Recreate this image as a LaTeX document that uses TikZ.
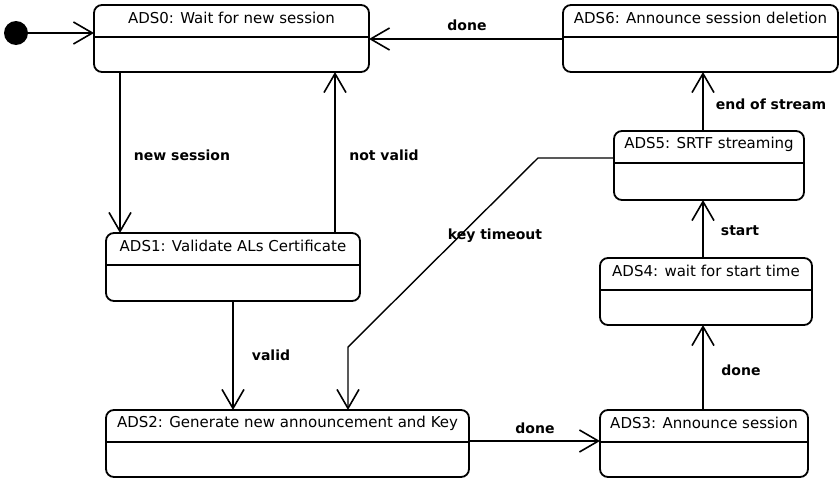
\documentclass[tikz,border=0pt]{standalone}
\usepackage{fontspec}
\setmainfont{DejaVu Sans}
\usetikzlibrary{arrows.meta,calc}
\begin{document}
\begin{tikzpicture}[x=1pt,y=-1pt,
  state/.style={draw, line width=1.8pt, rounded corners=8pt, anchor=north west,
    inner sep=0pt, outer sep=0pt},
  title/.style={font=\fontsize{15}{17}\selectfont, inner sep=0pt},
  divider/.style={line width=1.4pt},
  trans/.style={line width=1.8pt, -{Straight Barb[length=19pt,width=22pt,line width=1.6pt]}},
  lbl/.style={font=\fontsize{14}{16}\selectfont\bfseries, inner sep=0pt}]
\useasboundingbox (0,0) rectangle (840,479);

% states: box, title and divider line
\newcommand{\stbox}[6]{%
  \node[state, minimum width=#4, minimum height=#5] (#1) at (#2,#3) {};
  \node[title] (#1t) at ($(#1.north)+(0,13)$) {#6};
  \draw[divider] ($(#1.north west)+(0,32)$) -- ($(#1.north east)+(0,32)$);}

\stbox{s0}{94}{5}{275}{67}{ADS0: Wait for new session}
\stbox{s6}{563}{5}{275}{67}{ADS6: Announce session deletion}
\stbox{s5}{614}{131}{190}{69}{ADS5: SRTF streaming}
\stbox{s1}{106}{233}{254}{68}{ADS1: Validate ALs Certificate}
\stbox{s4}{600}{258}{212}{67}{ADS4: wait for start time}
\stbox{s2}{106}{410}{363}{67}{ADS2: Generate new announcement and Key}
\stbox{s3}{600}{410}{208}{67}{ADS3: Announce session}

% initial pseudo-state
\node[circle, fill, minimum size=24pt, inner sep=0pt] (init) at (16,33) {};

% transitions
\draw[trans] (init) -- (init -| s0.west);
\draw[trans] (s0.south -| 120,0) -- (s1.north -| 120,0);
\draw[trans] (s1.north -| 335,0) -- (s0.south -| 335,0);
\draw[trans] (s6.west |- 0,39) -- (s0.east |- 0,39);
\draw[trans] (s5.north -| 703,0) -- (s6.south -| 703,0);
\draw[trans] (s4.north -| 703,0) -- (s5.south -| 703,0);
\draw[trans] (s3.north -| 703,0) -- (s4.south -| 703,0);
\draw[trans, line width=2.8pt] (s1.south -| 233,0) -- (s2.north -| 233,0);
\draw[trans] (s2.east |- 0,441) -- (s3.west |- 0,441);
\coordinate (k1) at (538,158);
\coordinate (k2) at (348,347);
\draw[trans, line width=1.4pt] (s5.west |- k1) -- (k1) -- (k2) -- (s2.north -| k2);

% transition labels
\node[lbl] at (182,155) {new session};
\node[lbl] at (384,155) {not valid};
\node[lbl] at (467,25) {done};
\node[lbl] at (771,104) {end of stream};
\node[lbl] at (740,231) {start};
\node[lbl] at (271,355) {valid};
\node[lbl] at (741,370) {done};
\node[lbl] at (535,428) {done};
\node[lbl] at (495,236) {key timeout};
\end{tikzpicture}
\end{document}
